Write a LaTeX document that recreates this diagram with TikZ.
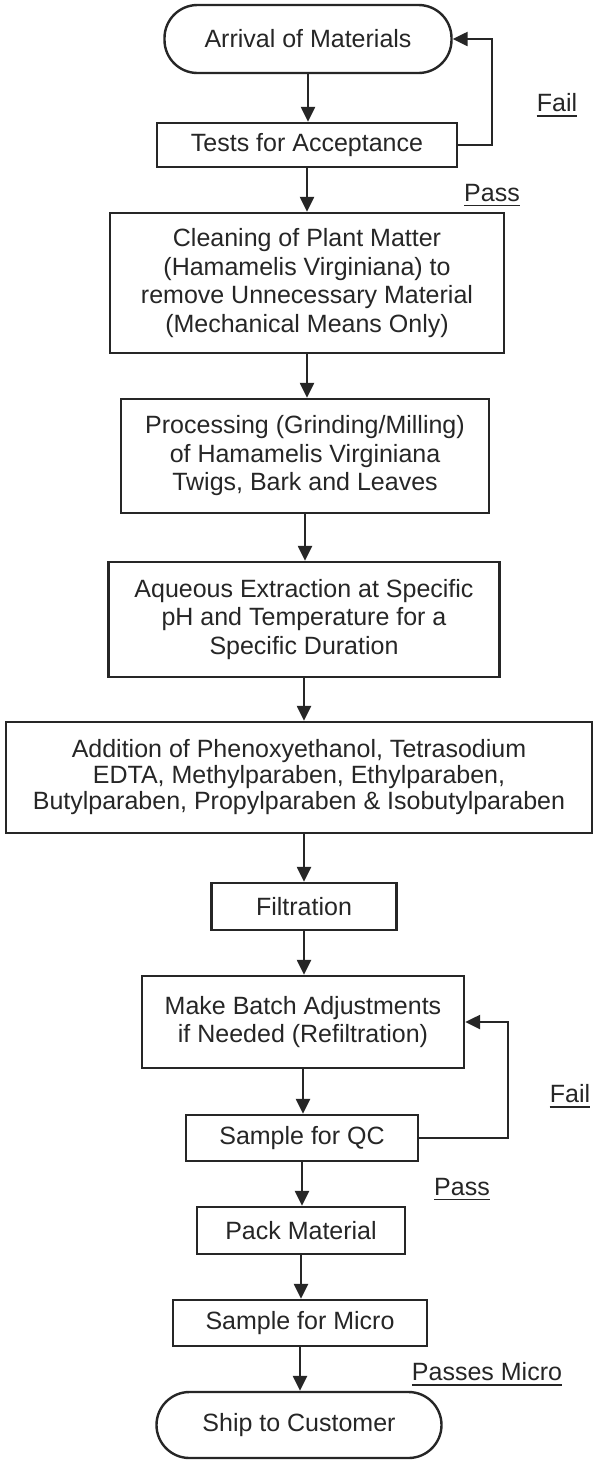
\documentclass[tikz,border=0pt]{standalone}
\usepackage{fontspec}
\setmainfont{Liberation Sans}
\usetikzlibrary{arrows.meta,calc}
\definecolor{ink}{HTML}{262626}
\begin{document}
\begin{tikzpicture}[x=1pt,y=-1pt,
  font=\fontsize{25}{28.5}\selectfont,
  every node/.style={text=ink},
  box/.style={draw=ink, line width=2.4pt, align=center, inner sep=0pt},
  pill/.style={box, rounded corners=33pt},
  lbl/.style={inner sep=0pt, font=\fontsize{25}{28}\selectfont},
  ul/.style={draw=ink, line width=1.8pt},
  arr/.style={draw=ink, line width=2.4pt, -{Triangle[length=15pt,width=14pt]}}]
\useasboundingbox[fill=white] (0,0) rectangle (594,1460);

\node[pill, minimum width=287, minimum height=68] (arrival) at (308,39) {Arrival of Materials};
\node[box, minimum width=300, minimum height=44] (tests) at (307,145) {Tests for Acceptance};
\node[box, minimum width=394, minimum height=140] (clean) at (307,283)
  {Cleaning of Plant Matter\\(Hamamelis Virginiana) to\\remove Unnecessary Material\\(Mechanical Means Only)};
\node[box, minimum width=368, minimum height=114] (proc) at (305,456)
  {Processing (Grinding/Milling)\\of Hamamelis Virginiana\\Twigs, Bark and Leaves};
\node[box, minimum width=391, minimum height=115] (aq) at (304,619.5)
  {Aqueous Extraction at Specific\\pH and Temperature for a\\Specific Duration};
\node[box, minimum width=586, minimum height=111, font=\fontsize{25}{26}\selectfont] (add) at (299,777.5)
  {Addition of Phenoxyethanol, Tetrasodium\\EDTA, Methylparaben, Ethylparaben,\\Butylparaben, Propylparaben \& Isobutylparaben};
\node[box, minimum width=185, minimum height=47] (filt) at (304,906.5) {Filtration};
\node[box, minimum width=322, minimum height=92] (make) at (303,1022)
  {Make Batch Adjustments\\if Needed (Refiltration)};
\node[box, minimum width=232, minimum height=46] (qc) at (302,1138) {Sample for QC};
\node[box, minimum width=208, minimum height=47] (pack) at (301,1230.5) {Pack Material};
\node[box, minimum width=254, minimum height=46] (micro) at (300,1323) {Sample for Micro};
\node[pill, minimum width=285, minimum height=66] (ship) at (299,1425) {Ship to Customer};

\node[lbl] (fail1) at (557,103) {Fail};
\node[lbl] (pass1) at (492,193) {Pass};
\node[lbl] (fail2) at (570,1094) {Fail};
\node[lbl] (pass2) at (462,1187) {Pass};
\node[lbl] (passm) at (487,1372) {Passes Micro};
\foreach \n in {fail1,pass1,fail2,pass2,passm}
  \draw[ul] ($(\n.base west)+(0,4)$) -- ($(\n.base east)+(0,4)$);

\coordinate (loop1) at (492,0);
\coordinate (loop2) at (508,0);

\draw[arr] (arrival.south) -- (arrival.south |- tests.north);
\draw[arr] (tests.south) -- (tests.south |- clean.north);
\draw[arr] (clean.south) -- (clean.south |- proc.north);
\draw[arr] (proc.south) -- (proc.south |- aq.north);
\draw[arr] (aq.south) -- (aq.south |- add.north);
\draw[arr] (filt.north |- add.south) -- (filt.north);
\draw[arr] (filt.south) -- (filt.south |- make.north);
\draw[arr] (make.south) -- (make.south |- qc.north);
\draw[arr] (qc.south) -- (qc.south |- pack.north);
\draw[arr] (pack.south) -- (pack.south |- micro.north);
\draw[arr] (micro.south) -- (micro.south |- ship.north);

\draw[arr] (tests.east) -- (tests.east -| loop1) -- (arrival.east -| loop1) -- (arrival.east);
\draw[arr] (qc.east) -- (qc.east -| loop2) -- (make.east -| loop2) -- (make.east);
\end{tikzpicture}
\end{document}
